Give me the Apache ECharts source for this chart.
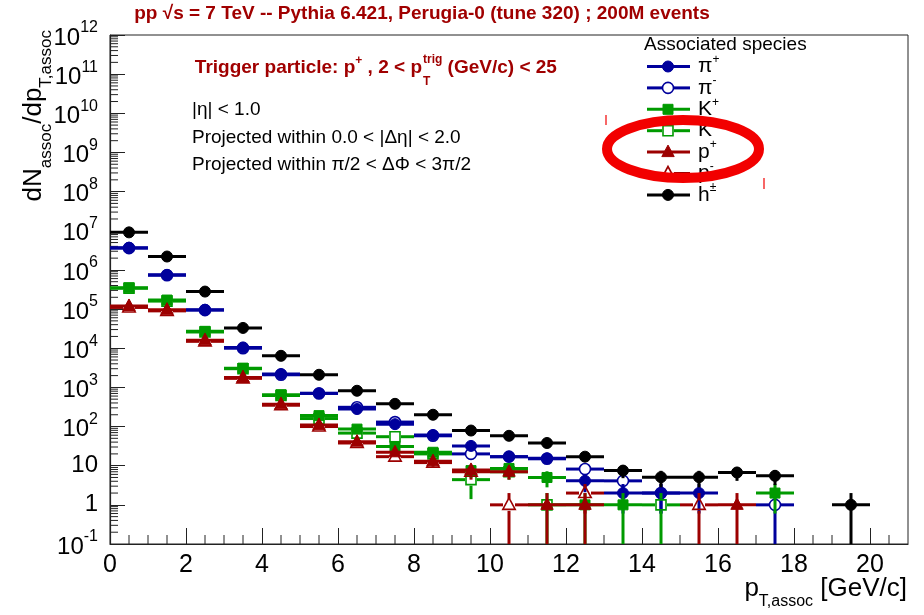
<!DOCTYPE html>
<html>
<head>
<meta charset="utf-8">
<script src="https://cdn.jsdelivr.net/npm/echarts@6/dist/echarts.min.js"></script>
<style>
html, body { margin: 0; padding: 0; background: #fff; }
#main { width: 924px; height: 615px; }
</style>
</head>
<body>
<div id="main"></div>
<script>
// p_T,assoc bins, 1 GeV/c wide, given by their centres
const binCenters = [0.5, 1.5, 2.5, 3.5, 4.5, 5.5, 6.5, 7.5, 8.5, 9.5, 10.5,
                    11.5, 12.5, 13.5, 14.5, 15.5, 16.5, 17.5, 18.5, 19.5, 20.5];
const binHalfWidth = 0.5;

// dN/dp_T per associated species (null = empty bin)
const piPlus  = [3.7e6, 7.5e5, 9.6e4, 1.05e4, 2.2e3, 7.1e2, 2.8e2, 115, 61, 32, 17, 15.5, 4.1, 2, 2, 2, null, null, null, null, null];
const piMinus = [3.6e6, 7.3e5, 9.4e4, 1.0e4, 2.1e3, 7.0e2, 3.1e2, 130, 58, 20, 17, 15, 8.2, 4.1, 2, null, null, 1, null, null, null];
const kPlus   = [3.5e5, 1.7e5, 2.7e4, 3.1e3, 6.5e2, 1.9e2, 86, 31, 22, 7.5, 8.5, 5, 1, 1, null, null, null, 2, null, null, null];
const kMinus  = [3.4e5, 1.6e5, 2.6e4, 3.0e3, 6.2e2, 1.6e2, 68, 55, 20, 4.4, 7, 1, null, null, 1, null, null, null, null, null, null];
const pPlus   = [1.2e5, 9.6e4, 1.6e4, 1.8e3, 3.7e2, 1.1e2, 41, 22, 13, 7.8, 7, 1, 1, null, null, null, 1, null, null, null, null];
const pMinus  = [1.1e5, 9.0e4, 1.5e4, 1.7e3, 3.5e2, 1.0e2, 38, 17, 12, 7, 1, null, 2, null, null, 1, null, null, null, null, null];
const hAll    = [9.1e6, 2.2e6, 2.8e5, 3.3e4, 6.4e3, 2.1e3, 8.2e2, 3.8e2, 2.0e2, 79, 58, 38, 17, 7.5, 5.1, 5.1, 6.7, 5.5, null, 1, null];

// statistical uncertainties per bin
const piPlusErr  = [1900, 870, 310, 100, 47, 27, 17, 11, 7.8, 5.7, 4.1, 3.9, 2, 1.4, 1.4, 1.4, null, null, null, null, null];
const piMinusErr = [1900, 850, 310, 100, 46, 26, 18, 11.4, 7.6, 4.5, 4.1, 3.9, 2.9, 2, 1.4, null, null, 1, null, null, null];
const kPlusErr   = [590, 410, 160, 56, 25, 14, 9.3, 5.6, 4.7, 2.7, 2.9, 2.2, 1, 1, null, null, null, 1.4, null, null, null];
const kMinusErr  = [580, 400, 160, 55, 25, 13, 8.2, 7.4, 4.5, 3, 2.6, 1, null, null, 1, null, null, null, null, null, null];
const pPlusErr   = [350, 310, 130, 42, 19, 10.5, 6.4, 4.7, 3.6, 2.8, 2.6, 1, 1, null, null, null, 1, null, null, null, null];
const pMinusErr  = [330, 300, 120, 41, 19, 10, 6.2, 4.1, 3.5, 2.6, 1, null, 1.4, null, null, 1, null, null, null, null, null];
const hAllErr    = [3000, 1500, 530, 180, 80, 46, 29, 19, 14, 9, 7.6, 6.2, 4.1, 2.7, 2.3, 2.3, 2.6, 2.3, null, 1, null];

// axis ranges and labels
const xRange = [0, 21];
const yRange = [0.1, 1e12];
const xTickStep = 2;

const titleText = 'pp √s = 7 TeV -- Pythia 6.421, Perugia-0 (tune 320) ; 200M events';
const cutLines = ['|η| < 1.0', 'Projected within 0.0 < |Δη| < 2.0', 'Projected within π/2 < ΔΦ < 3π/2'];
const legendTitle = 'Associated species';

const BLUE = '#00009c', GREEN = '#009a00', RED = '#9c0000', BLACK = '#000000';
const FONT = '"Liberation Sans", Arial, Helvetica, sans-serif';
const MARKER_R = 5.5;

const species = [
  { label: 'π{sup|+}', values: piPlus,  errors: piPlusErr,  color: BLUE,  marker: 'circle',   hollow: false },
  { label: 'π{sup|-}', values: piMinus, errors: piMinusErr, color: BLUE,  marker: 'circle',   hollow: true },
  { label: 'K{sup|+}', values: kPlus,   errors: kPlusErr,   color: GREEN, marker: 'square',   hollow: false },
  { label: 'K{sup|-}', values: kMinus,  errors: kMinusErr,  color: GREEN, marker: 'square',   hollow: true },
  { label: 'p{sup|+}', values: pPlus,   errors: pPlusErr,   color: RED,   marker: 'triangle', hollow: false },
  { label: 'p{sup|-}', values: pMinus,  errors: pMinusErr,  color: RED,   marker: 'triangle', hollow: true },
  { label: 'h{sup|±}', values: hAll,    errors: hAllErr,    color: BLACK, marker: 'circle',   hollow: false }
];

function markerShape(kind, hollow, cx, cy, color) {
  const style = hollow
    ? { fill: 'none', stroke: color, lineWidth: 1.6 }
    : { fill: color, stroke: color, lineWidth: 1 };
  if (kind === 'circle') return { type: 'circle', shape: { cx: cx, cy: cy, r: MARKER_R }, style: style };
  if (kind === 'square') return { type: 'rect', shape: { x: cx - 5, y: cy - 5, width: 10, height: 10 }, style: style };
  return { type: 'polygon', shape: { points: [[cx, cy - 7], [cx - 6.2, cy + 4.5], [cx + 6.2, cy + 4.5]] }, style: style };
}

// error-bar segments; for open markers the bars stop at the marker edge
function barSegments(x1, x2, y, yHi, yLo, cx, hollow) {
  const segs = [];
  if (!hollow) {
    segs.push([x1, y, x2, y]);
    if (yLo - yHi > 0.5) segs.push([cx, yHi, cx, yLo]);
    return segs;
  }
  const g = MARKER_R + 0.5;
  if (cx - g > x1) segs.push([x1, y, cx - g, y]);
  if (x2 > cx + g) segs.push([cx + g, y, x2, y]);
  if (y - g > yHi) segs.push([cx, yHi, cx, y - g]);
  if (yLo > y + g) segs.push([cx, y + g, cx, yLo]);
  return segs;
}

function histSeries(sp) {
  const data = [];
  sp.values.forEach(function (v, i) {
    if (v != null) data.push([binCenters[i], v, sp.errors[i] || 0]);
  });
  return {
    type: 'custom',
    clip: true,
    data: data,
    encode: { x: 0, y: 1 },
    renderItem: function (params, api) {
      const x = api.value(0), v = api.value(1), e = api.value(2);
      const pl = api.coord([x - binHalfWidth, v]);
      const pr = api.coord([x + binHalfWidth, v]);
      const pc = api.coord([x, v]);
      const hi = api.coord([x, v + e]);
      const lo = api.coord([x, Math.max(v - e, yRange[0])]);
      const lineStyle = { stroke: sp.color, lineWidth: 3 };
      const children = barSegments(pl[0], pr[0], pc[1], hi[1], lo[1], pc[0], sp.hollow).map(function (s) {
        return { type: 'line', shape: { x1: s[0], y1: s[1], x2: s[2], y2: s[3] }, style: lineStyle };
      });
      children.push(markerShape(sp.marker, sp.hollow, pc[0], pc[1], sp.color));
      return { type: 'group', children: children };
    }
  };
}

// minor ticks: 2..9 per decade on the log axis, every 0.5 on the p_T axis
const minorTickData = [];
for (let d = Math.round(Math.log10(yRange[0])); d < Math.round(Math.log10(yRange[1])); d++) {
  for (let k = 2; k <= 9; k++) minorTickData.push([xRange[0], k * Math.pow(10, d), 0]);
}
for (let t = 0.5; t < xRange[1]; t += 0.5) {
  if (t % xTickStep !== 0) minorTickData.push([t, yRange[0], 1]);
}
const minorTickSeries = {
  type: 'custom',
  silent: true,
  data: minorTickData,
  encode: { x: 0, y: 1 },
  renderItem: function (params, api) {
    const p = api.coord([api.value(0), api.value(1)]);
    const onY = api.value(2) === 0;
    return {
      type: 'line',
      shape: onY ? { x1: p[0], y1: p[1], x2: p[0] + 8, y2: p[1] }
                 : { x1: p[0], y1: p[1], x2: p[0], y2: p[1] - 9 },
      style: { stroke: '#222', lineWidth: 1 }
    };
  }
};

function yLabel(v) {
  const e = Math.round(Math.log10(v));
  if (e === 0) return '{p|1}';
  if (e === 1) return '{p|10}';
  return '{b|10}{s|' + e + '}';
}

// legend drawn as graphic rows: line + marker + label
const legendGraphics = [{
  type: 'text', x: 644, y: 45,
  style: { text: legendTitle, font: '19px ' + FONT, fill: '#000', textVerticalAlign: 'middle' }
}];
species.forEach(function (sp, i) {
  const y = 66.5 + i * 21.4;
  barSegments(647, 690, y, y, y, 668, sp.hollow).forEach(function (s) {
    legendGraphics.push({ type: 'line', shape: { x1: s[0], y1: s[1], x2: s[2], y2: s[3] }, style: { stroke: sp.color, lineWidth: 3 } });
  });
  legendGraphics.push(markerShape(sp.marker, sp.hollow, 668, y, sp.color));
  legendGraphics.push({
    type: 'text', x: 698, y: y,
    style: {
      text: sp.label, font: '21px ' + FONT, fill: '#000', textVerticalAlign: 'middle',
      rich: { sup: { font: '12px ' + FONT, fill: '#000', padding: [0, 0, 14, 0] } }
    }
  });
});

const chart = echarts.init(document.getElementById('main'), null, { renderer: 'canvas' });
chart.setOption({
  backgroundColor: '#ffffff',
  animation: false,
  grid: { left: 110, top: 35, right: 16, bottom: 71, show: true, borderColor: '#222', borderWidth: 1, backgroundColor: 'transparent' },
  xAxis: {
    type: 'value', min: xRange[0], max: xRange[1], interval: xTickStep,
    axisLine: { show: true, lineStyle: { color: '#222', width: 1.2 } },
    axisTick: { show: true, inside: true, length: 16, lineStyle: { color: '#222', width: 1 } },
    splitLine: { show: false },
    axisLabel: { show: true, showMaxLabel: false, margin: 9, color: '#000', fontFamily: FONT, fontSize: 25 }
  },
  yAxis: {
    type: 'log', logBase: 10, min: yRange[0], max: yRange[1], splitNumber: 13, interval: 1,
    axisLine: { show: true, lineStyle: { color: '#222', width: 1.2 } },
    axisTick: { show: true, inside: true, length: 15, lineStyle: { color: '#222', width: 1 } },
    splitLine: { show: false },
    axisLabel: {
      show: true, margin: 12, formatter: yLabel,
      rich: {
        p: { fontFamily: FONT, fontSize: 24, color: '#000' },
        b: { fontFamily: FONT, fontSize: 24, color: '#000', padding: [6, 0, 0, 0] },
        s: { fontFamily: FONT, fontSize: 16, color: '#000', padding: [0, 0, 14, 0] }
      }
    }
  },
  series: [minorTickSeries].concat(species.map(histSeries)),
  graphic: [
    {
      type: 'text', x: 422, y: 14,
      style: { text: titleText, font: 'bold 19px ' + FONT, fill: '#a00000', textAlign: 'center', textVerticalAlign: 'middle' }
    },
    {
      type: 'text', x: 422, y: 68,
      style: {
        text: 'Trigger particle: p{sup|+} , 2 < p', font: 'bold 19px ' + FONT, fill: '#a00000',
        textAlign: 'right', textVerticalAlign: 'middle',
        rich: { sup: { font: 'bold 12px ' + FONT, fill: '#a00000', padding: [0, 0, 14, 0] } }
      }
    },
    {
      type: 'text', x: 423, y: 68,
      style: {
        text: '{sup|trig} (GeV/c) < 25', font: 'bold 19px ' + FONT, fill: '#a00000',
        textAlign: 'left', textVerticalAlign: 'middle',
        rich: { sup: { font: 'bold 12px ' + FONT, fill: '#a00000', padding: [0, 0, 16, 0] } }
      }
    },
    {
      type: 'text', x: 423, y: 82,
      style: { text: 'T', font: 'bold 12px ' + FONT, fill: '#a00000', textAlign: 'left', textVerticalAlign: 'middle' }
    },
    { type: 'text', x: 192, y: 110, style: { text: cutLines[0], font: '19px ' + FONT, fill: '#000', textVerticalAlign: 'middle' } },
    { type: 'text', x: 192, y: 138, style: { text: cutLines[1], font: '19px ' + FONT, fill: '#000', textVerticalAlign: 'middle' } },
    { type: 'text', x: 192, y: 165, style: { text: cutLines[2], font: '19px ' + FONT, fill: '#000', textVerticalAlign: 'middle' } },
    {
      type: 'text', x: 34, y: 30, rotation: Math.PI / 2,
      style: {
        text: 'dN{sub|assoc}/dp{sub|T,assoc}', font: '26px ' + FONT, fill: '#000',
        textAlign: 'right', textVerticalAlign: 'middle',
        rich: { sub: { font: '17px ' + FONT, fill: '#000', padding: [24, 0, 0, 0] } }
      }
    },
    {
      type: 'text', x: 907, y: 589,
      style: {
        text: 'p{sub|T,assoc} [GeV/c]', font: '26px ' + FONT, fill: '#000',
        textAlign: 'right', textVerticalAlign: 'middle',
        rich: { sub: { font: '16px ' + FONT, fill: '#000', padding: [26, 0, 0, 0] } }
      }
    }
  ].concat(legendGraphics).concat([
    { type: 'ellipse', z: 100, shape: { cx: 683, cy: 149, rx: 76, ry: 29 }, style: { fill: null, stroke: '#f20000', lineWidth: 10 } },
    { type: 'line', z: 100, shape: { x1: 606, y1: 115, x2: 606, y2: 125 }, style: { stroke: '#f20000', lineWidth: 1.2 } },
    { type: 'line', z: 100, shape: { x1: 764, y1: 178, x2: 764, y2: 189 }, style: { stroke: '#f20000', lineWidth: 1.2 } }
  ])
});
</script>
</body>
</html>
